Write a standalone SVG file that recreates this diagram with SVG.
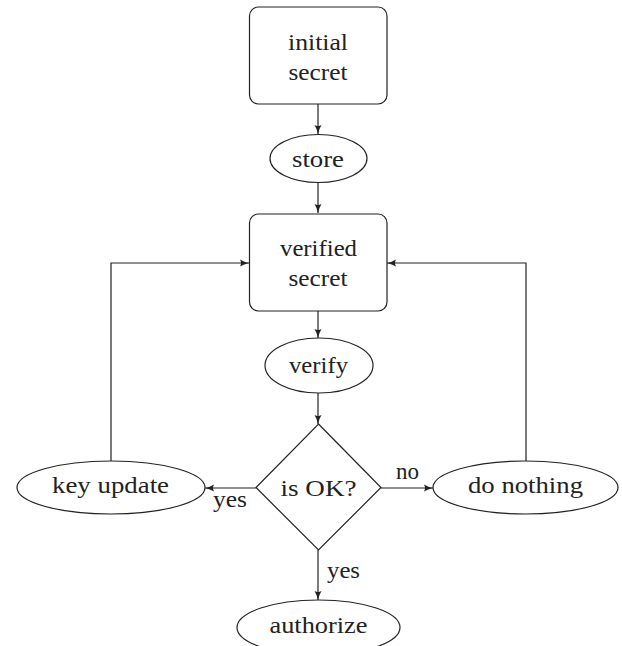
<svg xmlns="http://www.w3.org/2000/svg" width="622" height="646" viewBox="0 0 622 646" font-family="Liberation Serif, Times New Roman, serif">
<defs>
<marker id="ah" markerWidth="10" markerHeight="8" refX="9" refY="4" orient="auto" markerUnits="userSpaceOnUse">
<path d="M0,0.5 Q4,3 9,4 Q4,5 0,7.5 Q2,4 0,0.5 Z" fill="#222"/>
</marker>
</defs>
<rect width="622" height="646" fill="#fff"/>
<g id="connectors" fill="none" stroke="#222" stroke-width="1.2">
<path d="M318,104 V134" marker-end="url(#ah)"/>
<path d="M318,182 V213" marker-end="url(#ah)"/>
<path d="M318,311 V338" marker-end="url(#ah)"/>
<path d="M318,393 V424" marker-end="url(#ah)"/>
<path d="M256,488 H205" marker-end="url(#ah)"/>
<path d="M381,488 H433" marker-end="url(#ah)"/>
<path d="M318,550 V600" marker-end="url(#ah)"/>
<path d="M111,461 V263 H249" marker-end="url(#ah)"/>
<path d="M526,461 V263 H387" marker-end="url(#ah)"/>
</g>
<g id="initial">
<rect x="249.5" y="7" width="137.5" height="97" rx="9" fill="#fff" stroke="#222" stroke-width="1.2"/>
<text x="318" y="50" font-family="Liberation Serif" font-size="24" fill="#222" text-anchor="middle" textLength="60" lengthAdjust="spacingAndGlyphs">initial</text>
<text x="318" y="80" font-family="Liberation Serif" font-size="24" fill="#222" text-anchor="middle" textLength="59" lengthAdjust="spacingAndGlyphs">secret</text>
</g>
<g id="store">
<ellipse cx="318.5" cy="158.5" rx="48.5" ry="24" fill="#fff" stroke="#222" stroke-width="1.2"/>
<text x="318" y="167" font-family="Liberation Serif" font-size="24" fill="#222" text-anchor="middle" textLength="52" lengthAdjust="spacingAndGlyphs">store</text>
</g>
<g id="verified">
<rect x="249.5" y="214" width="137.5" height="97" rx="9" fill="#fff" stroke="#222" stroke-width="1.2"/>
<text x="318.5" y="256" font-family="Liberation Serif" font-size="24" fill="#222" text-anchor="middle" textLength="77" lengthAdjust="spacingAndGlyphs">verified</text>
<text x="318" y="286" font-family="Liberation Serif" font-size="24" fill="#222" text-anchor="middle" textLength="59" lengthAdjust="spacingAndGlyphs">secret</text>
</g>
<g id="verify">
<ellipse cx="319" cy="365.5" rx="54" ry="27.5" fill="#fff" stroke="#222" stroke-width="1.2"/>
<text x="318.5" y="373" font-family="Liberation Serif" font-size="24" fill="#222" text-anchor="middle" textLength="59" lengthAdjust="spacingAndGlyphs">verify</text>
</g>
<g id="isok">
<polygon points="318.5,424 381,487.5 318.5,550 256,487.5" fill="#fff" stroke="#222" stroke-width="1.2"/>
<text x="318.5" y="496" font-family="Liberation Serif" font-size="24" fill="#222" text-anchor="middle" textLength="76" lengthAdjust="spacingAndGlyphs">is OK?</text>
</g>
<g id="keyupdate">
<ellipse cx="111" cy="487.5" rx="94" ry="26.5" fill="#fff" stroke="#222" stroke-width="1.2"/>
<text x="110.5" y="493" font-family="Liberation Serif" font-size="24" fill="#222" text-anchor="middle" textLength="117" lengthAdjust="spacingAndGlyphs">key update</text>
</g>
<g id="donothing">
<ellipse cx="525.5" cy="487.5" rx="92.5" ry="26.5" fill="#fff" stroke="#222" stroke-width="1.2"/>
<text x="525.5" y="493" font-family="Liberation Serif" font-size="24" fill="#222" text-anchor="middle" textLength="115" lengthAdjust="spacingAndGlyphs">do nothing</text>
</g>
<g id="authorize">
<ellipse cx="318.5" cy="627.5" rx="81.5" ry="27.5" fill="#fff" stroke="#222" stroke-width="1.2"/>
<text x="318.5" y="633" font-family="Liberation Serif" font-size="24" fill="#222" text-anchor="middle" textLength="98" lengthAdjust="spacingAndGlyphs">authorize</text>
</g>
<g id="labels">
<text x="213" y="507" font-family="Liberation Serif" font-size="24" fill="#222" textLength="34" lengthAdjust="spacingAndGlyphs">yes</text>
<text x="396" y="479" font-family="Liberation Serif" font-size="24" fill="#222" textLength="23" lengthAdjust="spacingAndGlyphs">no</text>
<text x="327" y="578" font-family="Liberation Serif" font-size="24" fill="#222" textLength="33" lengthAdjust="spacingAndGlyphs">yes</text>
</g>
</svg>
